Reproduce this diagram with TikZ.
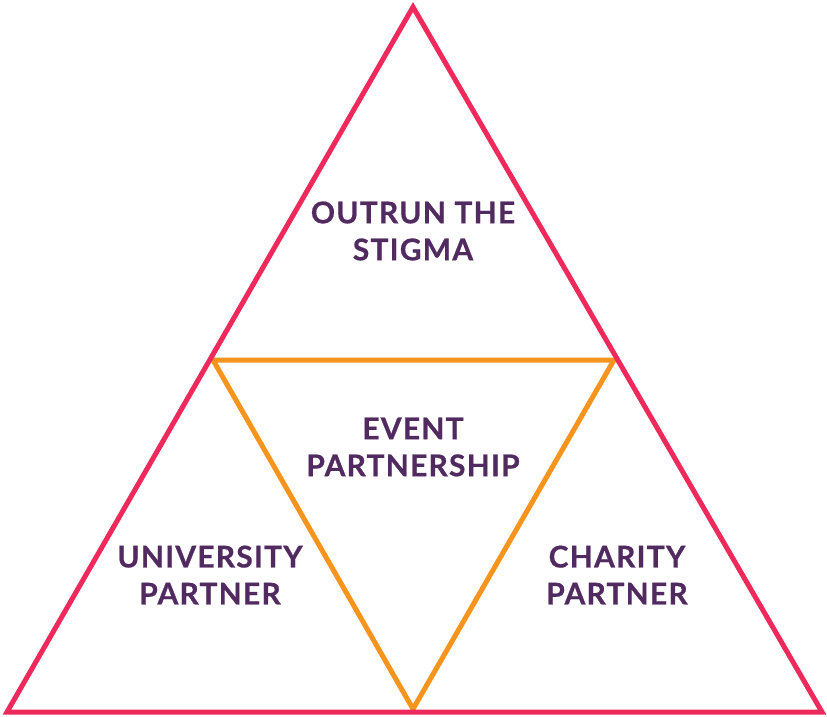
\documentclass[tikz,border=0pt]{standalone}
\usepackage{fontspec}
\setmainfont{Lato}[BoldFeatures={LetterSpace=4,FakeBold=0.6}]
\definecolor{pinkline}{HTML}{EE2A5C}
\definecolor{orangeline}{HTML}{F7941D}
\definecolor{purpletext}{HTML}{512A60}
\begin{document}
\begin{tikzpicture}[x=1pt,y=-1pt,
  outertri/.style={draw=pinkline,line width=5pt,line join=miter},
  innertri/.style={draw=orangeline,line width=5pt,line join=miter},
  lbl/.style={text=purpletext,font=\fontsize{30}{37}\selectfont\bfseries,align=center,inner sep=0pt}]
\useasboundingbox (0,0) rectangle (827,716);
\coordinate (A) at (413,7);
\coordinate (B) at (7,712);
\coordinate (C) at (822,712);
\coordinate (D) at (213,360);
\coordinate (E) at (614,360);
\coordinate (F) at (413,709);
\draw[innertri] (D) -- (E) -- (F) -- cycle;
\draw[outertri] (A) -- (B) -- (C) -- cycle;
\node[lbl] (top) at (413,231) {OUTRUN THE\\STIGMA};
\node[lbl] (mid) at (413,447) {EVENT\\PARTNERSHIP};
\node[lbl] (left) at (210,575) {UNIVERSITY\\PARTNER};
\node[lbl] (right) at (617,575) {CHARITY\\PARTNER};
\end{tikzpicture}
\end{document}
